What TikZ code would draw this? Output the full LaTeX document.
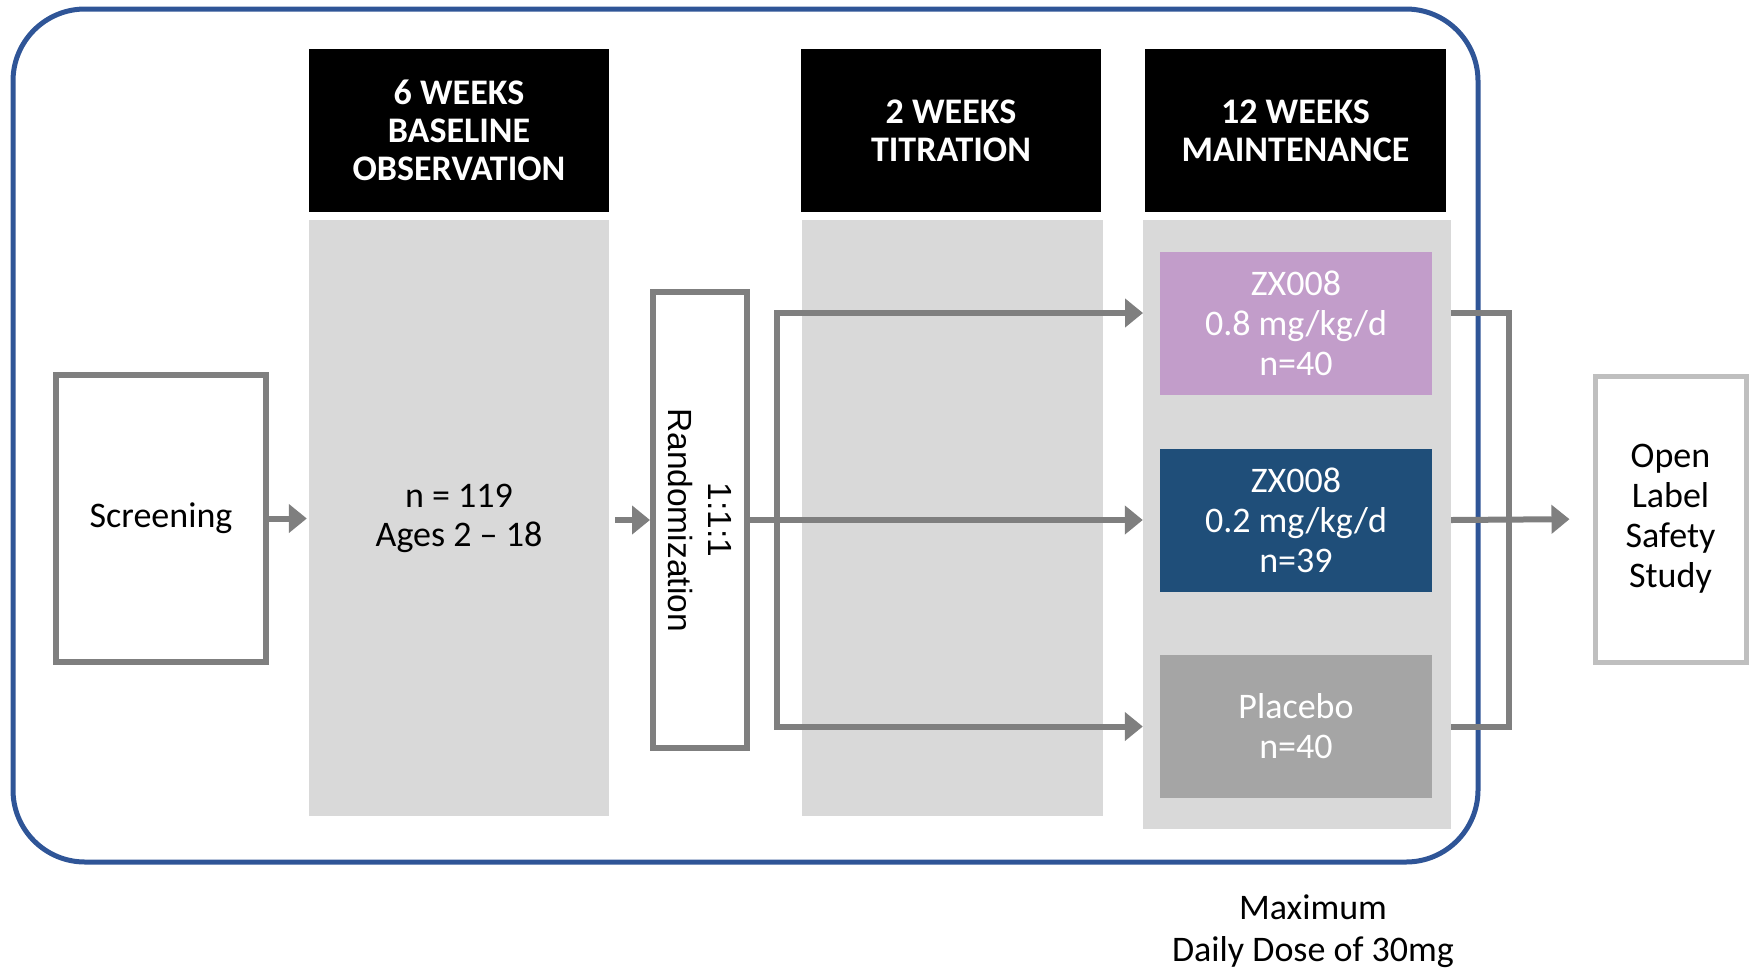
\documentclass[tikz,border=0pt]{standalone}
\usepackage{fontspec}
\setmainfont{Carlito}
\newfontfamily\randfont{Liberation Sans}
\usetikzlibrary{arrows.meta}
\definecolor{frameblue}{HTML}{2F5597}
\definecolor{colgrey}{HTML}{D9D9D9}
\definecolor{flowgrey}{HTML}{7F7F7F}
\definecolor{boxgrey}{HTML}{BFBFBF}
\definecolor{hidose}{HTML}{C29DCA}
\definecolor{lodose}{HTML}{1F4E79}
\definecolor{placebogrey}{HTML}{A5A5A5}
\begin{document}
\begin{tikzpicture}[x=1pt, y=-1pt,
    header/.style={fill=black, text=white, inner sep=0pt, align=center,
      font=\fontsize{36}{38}\selectfont\bfseries, minimum height=163pt},
    column/.style={fill=colgrey, inner sep=0pt, align=center,
      font=\fontsize{36}{39}\selectfont},
    arm/.style={inner sep=0pt, text=white, align=center,
      font=\fontsize{36}{40}\selectfont, minimum width=272pt, minimum height=143pt},
    flow/.style={draw=flowgrey, line width=6pt},
    tip/.style={-{Triangle[length=18pt, width=28pt]}}]
  \useasboundingbox (0,0) rectangle (1750,970);

  % Outer frame
  \draw[frameblue, line width=5pt, rounded corners=72pt] (13,9) rectangle (1478,862);

  % Phase headers and columns
  \node[header, minimum width=300pt] (hd1) at (459,130.5) {6 WEEKS\\BASELINE\\OBSERVATION};
  \node[header, minimum width=300pt] (hd2) at (951,130.5) {2 WEEKS\\TITRATION};
  \node[header, minimum width=301pt] (hd3) at (1295.5,130.5) {12 WEEKS\\MAINTENANCE};
  \node[column, minimum width=300pt, minimum height=596pt] (col1) at (459,518) {n = 119\\Ages 2 -- 18};
  \node[column, minimum width=301pt, minimum height=596pt] (col2) at (952.5,518) {};
  \node[column, minimum width=308pt, minimum height=609pt] (col3) at (1297,524.5) {};

  % Treatment arms
  \node[arm, fill=hidose] (dose08) at (1296,323.5) {ZX008\\0.8 mg/kg/d\\n=40};
  \node[arm, fill=lodose] (dose02) at (1296,520) {ZX008\\0.2 mg/kg/d\\n=39};
  \node[arm, fill=placebogrey] (placebo) at (1296,726.5) {Placebo\\n=40};

  % Screening, randomization and open label
  \node[draw=flowgrey, line width=6pt, minimum width=210pt, minimum height=287pt,
    font=\fontsize{36}{40}\selectfont] (screen) at (161,518.5) {Screening};
  \node[draw=flowgrey, line width=6pt, minimum width=94pt, minimum height=456pt] (rand) at (700,520) {};
  \node[rotate=-90, align=center, font=\randfont\fontsize{33.5}{40}\selectfont] (randtext) at (rand.center) {1:1:1\\Randomization};
  \node[draw=boxgrey, line width=5pt, minimum width=151pt, minimum height=286pt, align=center,
    font=\fontsize{36}{40}\selectfont] (ols) at (1670.5,519) {Open\\Label\\Safety\\Study};
  \node[align=center, font=\fontsize{36}{42}\selectfont] (note) at (1313,931) {Maximum\\Daily Dose of 30mg};

  % Arrows
  \coordinate (split) at (777,520);
  \coordinate (toprow) at (1143,313);
  \coordinate (join) at (1509,520);
  \draw[flow, tip, shorten >=2pt] (screen.east) -- (col1.west |- screen.east);
  \draw[flow, tip, shorten <=6pt] (col1.east |- rand.west) -- (rand.west);
  \draw[flow, tip] (rand.east) -- (rand.east -| col3.west);
  \draw[flow, tip] (split) |- (toprow);
  \draw[flow, tip] (split) |- (placebo.west -| col3.west);
  \draw[flow] (toprow -| col3.east) -| (join) |- (placebo.east -| col3.east);
  \draw[flow, tip, shorten >=23pt] (dose02.east -| col3.east) -- (ols.west);
\end{tikzpicture}
\end{document}
